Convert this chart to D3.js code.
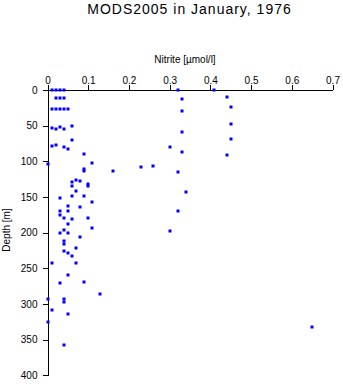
<!DOCTYPE html>
<html>
<head>
<meta charset="utf-8">
<script src="https://cdn.jsdelivr.net/npm/d3@7"></script>
<style>
  body { margin: 0; background: #fff; }
  svg { display: block; font-family: "Liberation Sans", Arial, Helvetica, sans-serif; }
  .axis path, .axis line { stroke: #000; shape-rendering: crispEdges; }
  .axis text { font-size: 10px; fill: #000; }
</style>
</head>
<body>
<script>
// Nitrite profile samples: concentration (µmol/l) and depth (m)
const nitrite = [
  0.01, 0.02, 0.03, 0.04, 0.32, 0.41,
  0.02, 0.03, 0.04, 0.44, 0.33,
  0.01, 0.02, 0.03, 0.04, 0.05, 0.45, 0.33,
  0.01, 0.02, 0.03, 0.04, 0.06, 0.45, 0.33,
  0.06, 0.45,
  0.01, 0.02, 0.04, 0.05, 0.30,
  0.33, 0.09, 0.44,
  0.11, 0.00,
  0.23, 0.26,
  0.09, 0.09, 0.16, 0.32,
  0.07, 0.08, 0.06, 0.10, 0.10, 0.06, 0.07, 0.34,
  0.06, 0.09, 0.03, 0.11, 0.05, 0.08,
  0.03, 0.05, 0.32, 0.03, 0.04, 0.10, 0.06,
  0.05, 0.11, 0.04, 0.30, 0.03, 0.05, 0.08,
  0.04, 0.04, 0.07, 0.04, 0.05, 0.06,
  0.07, 0.01, 0.05, 0.09, 0.03, 0.13,
  0.00, 0.04, 0.04, 0.01, 0.05, 0.00, 0.04, 0.65
];
const depth = [
  0, 0, 0, 0, 0, 0,
  11, 11, 11, 10, 13,
  27, 27, 27, 27, 27, 24, 29,
  53, 54, 52, 55, 51, 47, 59,
  70, 69,
  78, 77, 80, 83, 80,
  87, 90, 91.5,
  103, 104,
  107.5, 106.5,
  111, 113, 114, 115,
  126.5, 128, 129, 132, 134, 135, 142, 143,
  148, 149, 152, 157, 162, 164.5,
  170, 170, 170, 175.5, 180, 180, 181,
  188, 194, 196.5, 197, 200, 200.5, 206.5,
  211, 216, 222, 226, 229, 232,
  242, 243, 259, 269.5, 271, 286,
  293, 293, 297.5, 309, 314, 325.5, 358, 332.5
];
const nitriteTicks = [0, 0.1, 0.2, 0.3, 0.4, 0.5, 0.6, 0.7];
const depthTicks = [0, 50, 100, 150, 200, 250, 300, 350, 400];

const W = 343, H = 384;
const svg = d3.select("body").append("svg").attr("width", W).attr("height", H);

const x = d3.scaleLinear().domain([0, 0.7]).range([47.5, 332.5]);
const y = d3.scaleLinear().domain([0, 400]).range([90, 375.4]);

// Top axis (nitrite)
svg.append("g").attr("class", "axis")
  .attr("transform", "translate(0,90)")
  .call(d3.axisTop(x).tickValues(nitriteTicks).tickSize(5).tickSizeOuter(0).tickPadding(1)
    .tickFormat(d => d === 0 ? "0" : d3.format(".1f")(d)));

// Left axis (depth)
svg.append("g").attr("class", "axis")
  .attr("transform", "translate(47.5,0)")
  .call(d3.axisLeft(y).tickValues(depthTicks).tickSize(5).tickSizeOuter(0).tickPadding(5));

// Samples
svg.append("g").selectAll("rect")
  .data(nitrite.map((v, i) => ({ v, d: depth[i] })))
  .join("rect")
  .attr("x", p => Math.round(x(p.v)) - 1.5)
  .attr("y", p => Math.round(y(p.d)) - 1.5)
  .attr("width", 3).attr("height", 3)
  .attr("fill", "#0000ff");

// Titles
svg.append("text")
  .attr("x", 189.5).attr("y", 13.5)
  .attr("text-anchor", "middle")
  .attr("font-size", "14px")
  .attr("letter-spacing", "1px")
  .text("MODS2005 in January, 1976");

svg.append("text")
  .attr("x", 185).attr("y", 63)
  .attr("text-anchor", "middle")
  .attr("font-size", "10px")
  .text("Nitrite [µmol/l]");

svg.append("text")
  .attr("transform", "translate(10,230) rotate(-90)")
  .attr("text-anchor", "middle")
  .attr("font-size", "10px")
  .text("Depth [m]");
</script>
</body>
</html>
